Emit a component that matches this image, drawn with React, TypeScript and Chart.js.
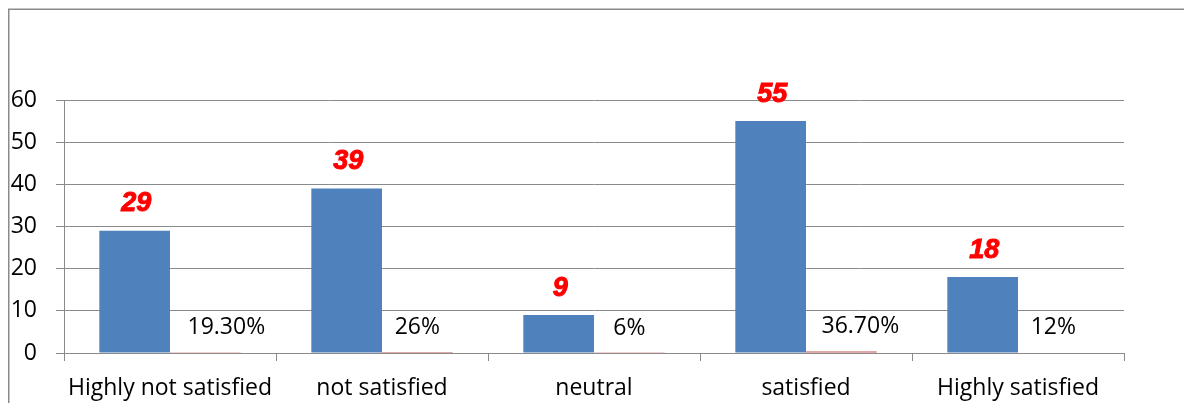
import React, { useEffect, useRef } from "react";
import { Chart, registerables } from "chart.js";

Chart.register(...registerables);

const categories = ["Highly not satisfied", "not satisfied", "neutral", "satisfied", "Highly satisfied"];
const counts = [29, 39, 9, 55, 18];
const percents = [0.193, 0.26, 0.06, 0.367, 0.12];
const percentLabels = ["19.30%", "26%", "6%", "36.70%", "12%"];
const yTicks = [0, 10, 20, 30, 40, 50, 60];

// horizontal nudges of the percentage labels (as placed in the original)
const percentLabelNudge = [21, 0, 0, 19, 0];

const GRID = "#8a8a8a";
const BLUE = "#4F81BD";
const RED = "#C0504D";
const FONT = "'Open Sans', sans-serif";
const FSIZE = 23;

const labelPlugin = {
  id: "customLabels",
  beforeDraw(chart: any) {
    const ctx = chart.ctx;
    ctx.save();
    ctx.strokeStyle = GRID;
    ctx.lineWidth = 1.5;
    ctx.beginPath();
    ctx.moveTo(0.75, chart.height);
    ctx.lineTo(0.75, 1.25);
    ctx.lineTo(chart.width, 1.25);
    ctx.stroke();
    ctx.restore();
  },
  afterDatasetsDraw(chart: any) {
    const ctx = chart.ctx;
    ctx.save();
    const m0 = chart.getDatasetMeta(0);
    ctx.font = "italic bold 27px 'Liberation Sans', Arial, sans-serif";
    ctx.fillStyle = "#FF0000";
    ctx.strokeStyle = "#FF0000";
    ctx.lineWidth = 1;
    ctx.textAlign = "center";
    ctx.textBaseline = "alphabetic";
    m0.data.forEach((bar: any, i: number) => {
      ctx.fillText(String(counts[i]), bar.x + 1.5, bar.y - 19.5);
      ctx.strokeText(String(counts[i]), bar.x + 1.5, bar.y - 19.5);
    });
    const m1 = chart.getDatasetMeta(1);
    ctx.font = `${FSIZE}px ${FONT}`;
    ctx.fillStyle = "#000000";
    m1.data.forEach((bar: any, i: number) => {
      ctx.fillText(percentLabels[i], bar.x + percentLabelNudge[i], bar.y - 18);
    });
    ctx.restore();
  },
};

export default function App() {
  const ref = useRef<HTMLCanvasElement>(null);
  useEffect(() => {
    if (!ref.current) return;
    const chart = new Chart(ref.current, {
      type: "bar",
      data: {
        labels: categories,
        datasets: [
          { label: "Count", data: counts, backgroundColor: BLUE, categoryPercentage: 2 / 3, barPercentage: 1 },
          { label: "Percent", data: percents, backgroundColor: RED, categoryPercentage: 2 / 3, barPercentage: 1 },
        ],
      },
      options: {
        animation: false,
        responsive: false,
        maintainAspectRatio: false,
        layout: { padding: { top: 92, right: 68, left: 0, bottom: 0 } },
        plugins: { legend: { display: false }, tooltip: { enabled: false } },
        scales: {
          x: {
            grid: { display: true, drawOnChartArea: false, drawTicks: true, tickLength: 8, color: GRID, lineWidth: 1, offset: true },
            border: { display: true, color: GRID, width: 1 },
            ticks: { color: "#000", font: { family: FONT, size: FSIZE }, padding: 14, maxRotation: 0, autoSkip: false },
            afterFit: (s: any) => { s.height = 50; },
          },
          y: {
            min: 0,
            max: 60,
            afterBuildTicks: (s: any) => { s.ticks = yTicks.map((v) => ({ value: v })); },
            grid: { color: GRID, lineWidth: 1, tickLength: 8, drawTicks: true },
            border: { display: true, color: GRID, width: 1 },
            ticks: { color: "#000", font: { family: FONT, size: FSIZE }, padding: 19 },
            afterFit: (s: any) => { s.width = 56; },
          },
        },
      },
      plugins: [labelPlugin],
    });
    return () => chart.destroy();
  }, []);
  return (
    <div style={{ width: 1184, height: 395 }}>
      <canvas ref={ref} width={1184} height={395} style={{ display: "block" }} />
    </div>
  );
}
